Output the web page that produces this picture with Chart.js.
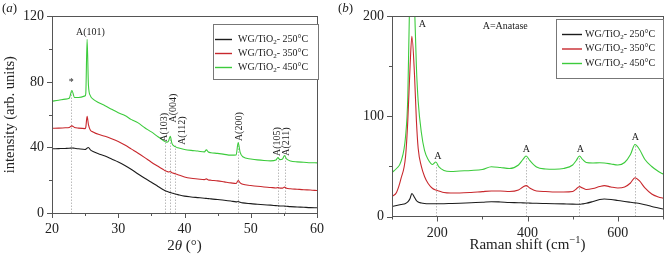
<!DOCTYPE html>
<html>
<head>
<meta charset="utf-8">
<script src="https://cdn.jsdelivr.net/npm/chart.js@4.4.0/dist/chart.umd.min.js"></script>
<style>
  body { margin: 0; background: #fff; width: 665px; height: 255px; overflow: hidden; position: relative; }
  canvas { position: absolute; top: 0; }
</style>
</head>
<body>
<canvas id="xrd" width="332" height="255" style="left:0"></canvas>
<canvas id="raman" width="333" height="255" style="left:332px"></canvas>
<script>
// ---- (a) XRD data: 2theta and intensity for each calcination temperature
const xrdTheta = [20,21,22,22.6,23,23.4,24,25,25.1,25.3,
    25.5,25.8,26.2,27,28,29,30,31,32,33,
    34,35,36,36.8,37.0,37.3,37.6,37.85,38.1,38.6,
    39,40,41,42,43,43.3,43.6,44,45,46,
    47,47.8,48.1,48.4,48.8,50,51,52,53,53.8,
    54.1,54.4,54.8,55.1,55.4,56,57,58,59,60];
const xrd250 = [39.2,39.3,39.4,39.5,39.7,39.5,39.2,38.8,38.9,39.6,
    40,38.5,37.5,36.2,34.8,33,31.2,29,26.5,23.8,
    21.2,18.8,16.2,14.2,13.8,13.3,12.8,12.5,12.2,11.6,
    11.2,10.3,9.8,9.4,9,8.9,8.8,8.6,8.2,7.8,
    7.3,6.8,7,6.6,6.2,5.7,5.3,5,4.8,4.5,
    4.4,4.3,4.3,4.2,4.1,3.9,3.7,3.5,3.3,3.2];
const xrd350 = [51.7,51.8,52,52.2,53.2,52.2,51.8,51.5,52.3,59,
    54,50.5,49.5,48,46.8,45.3,43.6,41.5,39,36.5,
    33.8,31,28.5,26.5,26,25.5,25,25.3,24.6,24,
    23.4,22,21.2,20.8,20.4,20.8,20.2,20,19.6,19,
    18.4,18,19.8,18.4,17.5,16.8,16.3,15.9,15.6,15.3,
    15.5,15.2,15.2,15.8,15.1,14.8,14.5,14.2,14,13.7];
const xrd450 = [68.3,68.8,69.5,70,74.8,70.5,70.5,71.5,73,106,
    78,71.5,69.5,67.5,65.5,63.3,61.2,59.5,57,55,
    52,49.5,46.5,44.3,43.8,43.2,44,46.8,42.5,40.5,
    39.8,38.8,38.2,37.8,37.3,38.5,37.2,36.8,36.4,35.8,
    35.3,35.5,43,37,34.3,33,32.4,32,31.8,32.3,
    33.8,32.6,33,35,33,31.8,31.2,31,30.7,30.6];
const xrdXTicks = [20, 30, 40, 50, 60];
const xrdYTicks = [0, 40, 80, 120];
// reflection markers (position, top of dotted line)
const xrdRefPos = [22.9, 37.0, 37.8, 38.6, 48.1, 54.05, 55.1];
const xrdRefTop = [75, 43.5, 46.5, 42, 43, 33.8, 35];
const xrdLabelText = ['A(101)', '*', 'A(103)', 'A(004)', 'A(112)', 'A(200)', 'A(105)', 'A(211)'];
const xrdLabelX = [25.8, 22.9, 36.95, 38.29, 39.67, 48.3, 54.05, 55.39];
const xrdLabelY = [110, 79.5, 52.3, 64, 50.3, 52.7, 43.6, 43.6];
const xrdLabelRot = [false, false, true, true, true, true, true, true];

// ---- (b) Raman data
const ramanShift = [100,110,120,130,135,140,144,150,154,158,
    165,172,180,190,197,204,215,230,250,275,
    300,320,340,360,380,390,397,405,420,440,
    460,480,500,508,515,522,530,545,560,570,
    585,600,615,628,638,648,660,675,690,700];
const raman250 = [10,11,12,13,14.5,18,23,19,16,14.5,
    13.5,13,12.8,12.8,12.8,12.8,12.8,13,13.3,13.8,
    14.2,14.8,14.5,14,13.8,13.6,13.5,13.4,13.2,13,
    12.8,12.6,12.4,12.3,12.2,12.6,13.2,15,17,17.5,
    17,16,15,14.2,13.6,13,11.8,10,8.5,7.5];
const raman350 = [20,24,38,60,96,150,180,140,96,68,
    50,40,33,28,26.5,25.5,24,23.5,23.5,24,
    24.9,25.5,25.5,25,26.5,29.5,30.9,28.5,25.5,25,
    24.5,24.5,25,27.5,29.9,28.5,27,28,30,30.9,
    29.5,28.5,29.5,33.5,38.8,35.5,28.5,22.5,19.5,18.3];
const raman450 = [44,48,55,80,120,240,300,210,150,115,
    84,66,57,52,54.5,49.5,46,45,45.5,46,
    47,49.8,49,48,51.5,57,60.4,56,49.5,47.5,
    47.2,48,51.5,56,60.4,57,54,53.5,53.7,53.5,
    52.5,51.5,54,62,72,67,57,50,45,42.5];
const ramanXTicks = [200, 400, 600];
const ramanYTicks = [0, 100, 200];
const ramanRefPos = [198, 397, 515, 638];
const ramanRefTop = [51.5, 60.4, 60.4, 72];
const ramanLabelText = ['A', 'A=Anatase', 'A', 'A', 'A', 'A'];
const ramanLabelX = [167, 350.8, 201.8, 397.5, 517, 638.8];
const ramanLabelY = [191.7, 189.7, 59.7, 67.4, 67.4, 78.6];

const seriesNames = ['250°C', '350°C', '450°C'];
const seriesColors = ['#1c1c1c', '#c8282d', '#3ccb3c'];

const SERIF = '"Liberation Serif", "DejaVu Serif", serif';
const INK = '#222';

function font(size, italic) {
    return (italic ? 'italic ' : '') + size + 'px ' + SERIF;
}

// draws a row of text pieces; pieces can be sub/superscript or italic
function drawRuns(ctx, runs, x, y, size, align) {
    let w = 0;
    runs.forEach(r => {
        ctx.font = font(r.sub || r.sup ? size * 0.7 : size, r.italic);
        w += ctx.measureText(r.t).width;
    });
    let cx = align === 'center' ? x - w / 2 : x;
    ctx.textAlign = 'left';
    ctx.textBaseline = 'middle';
    runs.forEach(r => {
        const s = r.sub || r.sup ? size * 0.7 : size;
        ctx.font = font(s, r.italic);
        const dy = r.sub ? size * 0.3 : (r.sup ? -size * 0.35 : 0);
        ctx.fillText(r.t, cx, y + dy);
        cx += ctx.measureText(r.t).width;
    });
}

function buildDatasets(xs, ys) {
    return ys.map((vals, i) => ({
        label: seriesNames[i],
        data: xs.map((x, j) => ({ x: x, y: vals[j] })),
        borderColor: seriesColors[i],
        borderWidth: 1.1,
        pointRadius: 0,
        cubicInterpolationMode: 'monotone',
    }));
}

// frame, outward ticks, annotations, legend and titles
const panelDecor = {
    id: 'panelDecor',
    beforeDatasetsDraw(chart, args, o) {
        const ctx = chart.ctx, xs = chart.scales.x, ys = chart.scales.y;
        ctx.save();
        ctx.strokeStyle = '#aaa';
        ctx.lineWidth = 0.8;
        ctx.setLineDash([1.5, 1.5]);
        o.refPos.forEach((p, i) => {
            const px = Math.round(xs.getPixelForValue(p)) + 0.5;
            ctx.beginPath();
            ctx.moveTo(px, ys.getPixelForValue(0));
            ctx.lineTo(px, ys.getPixelForValue(o.refTop[i]));
            ctx.stroke();
        });
        ctx.restore();
    },
    afterDraw(chart, args, o) {
        const ctx = chart.ctx, a = chart.chartArea;
        const xs = chart.scales.x, ys = chart.scales.y;
        ctx.save();
        // frame
        ctx.strokeStyle = '#555';
        ctx.lineWidth = 1;
        ctx.strokeRect(Math.round(a.left) + 0.5, Math.round(a.top) + 0.5,
            Math.round(a.right - a.left), Math.round(a.bottom - a.top));
        // ticks
        ctx.beginPath();
        o.xMinor.concat(o.xMajor).forEach(v => {
            const len = o.xMajor.includes(v) ? 5 : 3;
            const px = Math.round(xs.getPixelForValue(v)) + 0.5;
            ctx.moveTo(px, a.bottom);
            ctx.lineTo(px, a.bottom + len);
        });
        o.yMinor.concat(o.yMajor).forEach(v => {
            const len = o.yMajor.includes(v) ? 5 : 3;
            const py = Math.round(ys.getPixelForValue(v)) + 0.5;
            ctx.moveTo(a.left, py);
            ctx.lineTo(a.left - len, py);
        });
        ctx.stroke();

        // annotations
        ctx.fillStyle = INK;
        ctx.textBaseline = 'middle';
        ctx.textAlign = 'center';
        ctx.font = font(10);
        o.labelText.forEach((t, i) => {
            const px = xs.getPixelForValue(o.labelX[i]);
            const py = ys.getPixelForValue(o.labelY[i]);
            if (o.labelRot && o.labelRot[i]) {
                ctx.save();
                ctx.translate(px, py);
                ctx.rotate(-Math.PI / 2);
                ctx.fillText(t, 0, 0);
                ctx.restore();
            } else {
                ctx.fillText(t, px, py);
            }
        });

        // legend
        const L = o.legend;
        ctx.fillStyle = '#fff';
        ctx.fillRect(L.left, L.top, L.width, L.height);
        ctx.strokeStyle = '#777';
        ctx.lineWidth = 1;
        ctx.strokeRect(L.left + 0.5, L.top + 0.5, L.width, L.height);
        seriesNames.forEach((name, i) => {
            const y = L.rows[i];
            ctx.strokeStyle = seriesColors[i];
            ctx.lineWidth = 1.4;
            ctx.beginPath();
            ctx.moveTo(L.lineX0, y + 0.5);
            ctx.lineTo(L.lineX1, y + 0.5);
            ctx.stroke();
            ctx.fillStyle = INK;
            drawRuns(ctx, [{ t: 'WG/TiO' }, { t: '2', sub: true }, { t: '- ' + name }], L.textX, y, 10, 'left');
        });

        // axis titles and panel letter
        ctx.fillStyle = INK;
        drawRuns(ctx, o.xTitle, (a.left + a.right) / 2, o.xTitleY, 15, 'center');
        if (o.yTitle) {
            ctx.save();
            ctx.translate(o.yTitleX, (a.top + a.bottom) / 2);
            ctx.rotate(-Math.PI / 2);
            drawRuns(ctx, [{ t: o.yTitle }], 0, 0, 14.5, 'center');
            ctx.restore();
        }
        drawRuns(ctx, [{ t: '(' }, { t: o.letter, italic: true }, { t: ')' }], o.letterX, 9, 13, 'left');
        ctx.restore();
    }
};

function scaleOpts(min, max, ticks, fit) {
    return {
        type: 'linear',
        min: min,
        max: max,
        grid: { display: false, drawTicks: false },
        border: { display: false },
        afterBuildTicks: s => { s.ticks = ticks.map(v => ({ value: v })); },
        afterFit: fit,
        ticks: { color: INK, font: { family: SERIF, size: 14 }, maxRotation: 0, autoSkip: false },
    };
}

Chart.register(panelDecor);

const xrdX = scaleOpts(20, 60, xrdXTicks, s => { s.height = 42; });
xrdX.ticks.padding = 8;
const xrdY = scaleOpts(0, 120, xrdYTicks, s => { s.width = 52; });
xrdY.ticks.padding = 8;

new Chart(document.getElementById('xrd'), {
    type: 'line',
    data: { datasets: buildDatasets(xrdTheta, [xrd250, xrd350, xrd450]) },
    options: {
        responsive: false,
        animation: false,
        layout: { padding: { top: 16, right: 11, left: 0, bottom: 0 } },
        scales: { x: xrdX, y: xrdY },
        plugins: {
            legend: { display: false },
            tooltip: { enabled: false },
            panelDecor: {
                refPos: xrdRefPos, refTop: xrdRefTop,
                xMajor: xrdXTicks, xMinor: [25, 35, 45, 55],
                yMajor: xrdYTicks, yMinor: [20, 60, 100],
                labelText: xrdLabelText, labelX: xrdLabelX, labelY: xrdLabelY, labelRot: xrdLabelRot,
                legend: { left: 213, top: 24, width: 105, height: 55, rows: [39, 53, 67], lineX0: 215, lineX1: 232, textX: 238 },
                xTitle: [{ t: '2' }, { t: 'θ', italic: true }, { t: ' (°)' }], xTitleY: 246,
                yTitle: 'intensity (arb. units)', yTitleX: 10,
                letter: 'a', letterX: 2,
            },
        },
    },
});

const ramanX = scaleOpts(100, 700, ramanXTicks, s => { s.height = 38.5; });
ramanX.ticks.padding = 8;
const ramanY = scaleOpts(0, 200, ramanYTicks, s => { s.width = 60; });
ramanY.ticks.padding = 8;

new Chart(document.getElementById('raman'), {
    type: 'line',
    data: { datasets: buildDatasets(ramanShift, [raman250, raman350, raman450]) },
    options: {
        responsive: false,
        animation: false,
        layout: { padding: { top: 16, right: 2, left: 0, bottom: 0 } },
        scales: { x: ramanX, y: ramanY },
        plugins: {
            legend: { display: false },
            tooltip: { enabled: false },
            panelDecor: {
                refPos: ramanRefPos, refTop: ramanRefTop,
                xMajor: ramanXTicks, xMinor: [100, 300, 500, 700],
                yMajor: ramanYTicks, yMinor: [50, 150],
                labelText: ramanLabelText, labelX: ramanLabelX, labelY: ramanLabelY,
                legend: { left: 224, top: 19, width: 107, height: 59, rows: [34, 48.5, 63], lineX0: 230, lineX1: 250, textX: 253 },
                xTitle: [{ t: 'Raman shift (cm' }, { t: '−1', sup: true }, { t: ')' }], xTitleY: 245,
                yTitle: null,
                letter: 'b', letterX: 6,
            },
        },
    },
});
</script>
</body>
</html>
